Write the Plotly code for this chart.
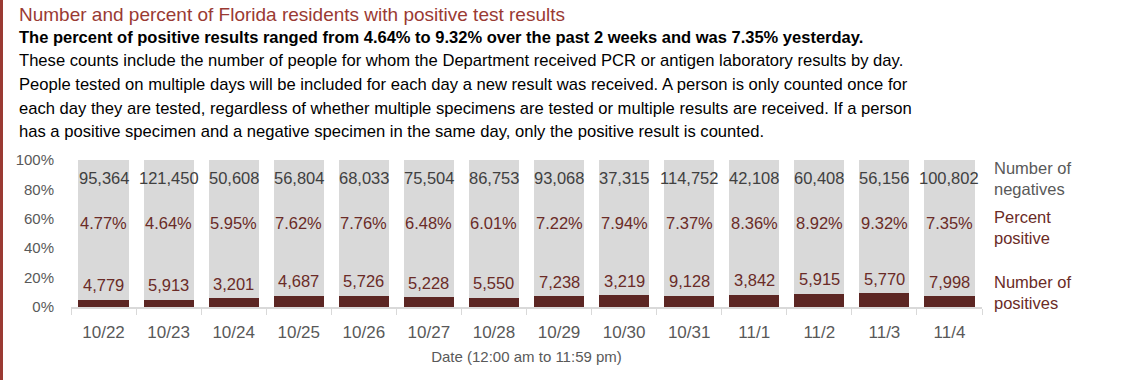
import plotly.graph_objects as go

dates = ["10/22", "10/23", "10/24", "10/25", "10/26", "10/27", "10/28",
         "10/29", "10/30", "10/31", "11/1", "11/2", "11/3", "11/4"]
negatives = [95364, 121450, 50608, 56804, 68033, 75504, 86753,
             93068, 37315, 114752, 42108, 60408, 56156, 100802]
positives = [4779, 5913, 3201, 4687, 5726, 5228, 5550,
             7238, 3219, 9128, 3842, 5915, 5770, 7998]
pct_labels = ["4.77%", "4.64%", "5.95%", "7.62%", "7.76%", "6.48%", "6.01%",
              "7.22%", "7.94%", "7.37%", "8.36%", "8.92%", "9.32%", "7.35%"]
pct_pos = [float(s.rstrip("%")) / 100 for s in pct_labels]
pct_neg = [1 - p for p in pct_pos]

W, H = 1140, 380
L, R, T, B = 71, 158, 160, 73
PW, PH = W - L - R, H - T - B


def px(x):
    return (x - L) / PW


def py(y):
    return (H - B - y) / PH


DARK = "#5c2623"
LABEL_RED = "#6a2b27"
GRAY_BAR = "#d9d9d9"
TXT = "#595959"
FONT = "Liberation Sans, Arial, sans-serif"

fig = go.Figure()
fig.add_trace(go.Bar(x=dates, y=pct_pos, marker=dict(color=DARK, line_width=0),
                     hoverinfo="skip"))
fig.add_trace(go.Bar(x=dates, y=pct_neg, marker=dict(color=GRAY_BAR, line_width=0),
                     hoverinfo="skip"))

ann = []
for d, n, p, pl, pp in zip(dates, negatives, positives, pct_labels, pct_pos):
    ann.append(dict(x=d, y=0.878, xref="x", yref="y", text=f"{n:,}", showarrow=False,
                    font=dict(size=16.5, color="#404040", family=FONT), yanchor="middle"))
    ann.append(dict(x=d, y=0.572, xref="x", yref="y", text=pl, showarrow=False,
                    font=dict(size=16.5, color=LABEL_RED, family=FONT), yanchor="middle"))
    ann.append(dict(x=d, y=pp + 0.10, xref="x", yref="y", text=f"{p:,}", showarrow=False,
                    font=dict(size=16.5, color=LABEL_RED, family=FONT), yanchor="middle"))

# right-side legend labels
for text, yc, col in [("Number of<br>negatives", 178, TXT),
                      ("Percent<br>positive", 227, LABEL_RED),
                      ("Number of<br>positives", 292, LABEL_RED)]:
    ann.append(dict(x=px(992), y=py(yc), xref="paper", yref="paper", text=text,
                    showarrow=False, xanchor="left", yanchor="middle", align="left",
                    font=dict(size=16.5, color=col, family=FONT)))

# header texts
ann.append(dict(x=px(17), y=py(14), xref="paper", yref="paper",
                text="Number and percent of Florida residents with positive test results",
                showarrow=False, xanchor="left", yanchor="middle",
                font=dict(size=19, color="#9a3a33", family=FONT)))
ann.append(dict(x=px(17), y=py(37), xref="paper", yref="paper",
                text="<b>The percent of positive results ranged from 4.64% to 9.32% over the past 2 weeks and was 7.35% yesterday.</b>",
                showarrow=False, xanchor="left", yanchor="middle",
                font=dict(size=16.5, color="#000000", family=FONT)))
body = [
    "These counts include the number of people for whom the Department received PCR or antigen laboratory results by day.",
    "People tested on multiple days will be included for each day a new result was received. A person is only counted once for",
    "each day they are tested, regardless of whether multiple specimens are tested or multiple results are received. If a person",
    "has a positive specimen and a negative specimen in the same day, only the positive result is counted.",
]
for i, line in enumerate(body):
    ann.append(dict(x=px(17), y=py(61 + i * 23.5), xref="paper", yref="paper", text=line,
                    showarrow=False, xanchor="left", yanchor="middle",
                    font=dict(size=16.6, color="#000000", family=FONT)))

fig.update_layout(
    width=W, height=H, barmode="stack", bargap=0.23,
    margin=dict(l=L, r=R, t=T, b=B, pad=0),
    paper_bgcolor="white", plot_bgcolor="white",
    showlegend=False, annotations=ann,
    shapes=[dict(type="line", xref="paper", yref="paper", x0=px(1.5), x1=px(1.5),
                 y0=py(0), y1=py(H), line=dict(color="#9a3a33", width=3))],
    font=dict(family=FONT, color=TXT),
)
fig.update_yaxes(range=[0, 1], tickvals=[0, 0.2, 0.4, 0.6, 0.8, 1.0],
                 ticktext=["0%", "20%", "40%", "60%", "80%", "100%"],
                 showgrid=False, zeroline=False, showline=False,
                 tickfont=dict(size=15, color=TXT, family=FONT), ticklabelstandoff=16)
fig.update_xaxes(type="category", range=[-0.5, len(dates) - 0.5],
                 showline=True, linecolor=GRAY_BAR, linewidth=1.5,
                 ticks="outside", tickson="boundaries", ticklen=6, tickcolor=GRAY_BAR,
                 tickfont=dict(size=17, color=TXT, family=FONT), ticklabelstandoff=9,
                 title=dict(text="Date (12:00 am to 11:59 pm)", standoff=10,
                            font=dict(size=15, color=TXT, family=FONT)))

fig.write_html("out.html", config={"displayModeBar": False},
               post_script="document.body.style.margin='0';")
